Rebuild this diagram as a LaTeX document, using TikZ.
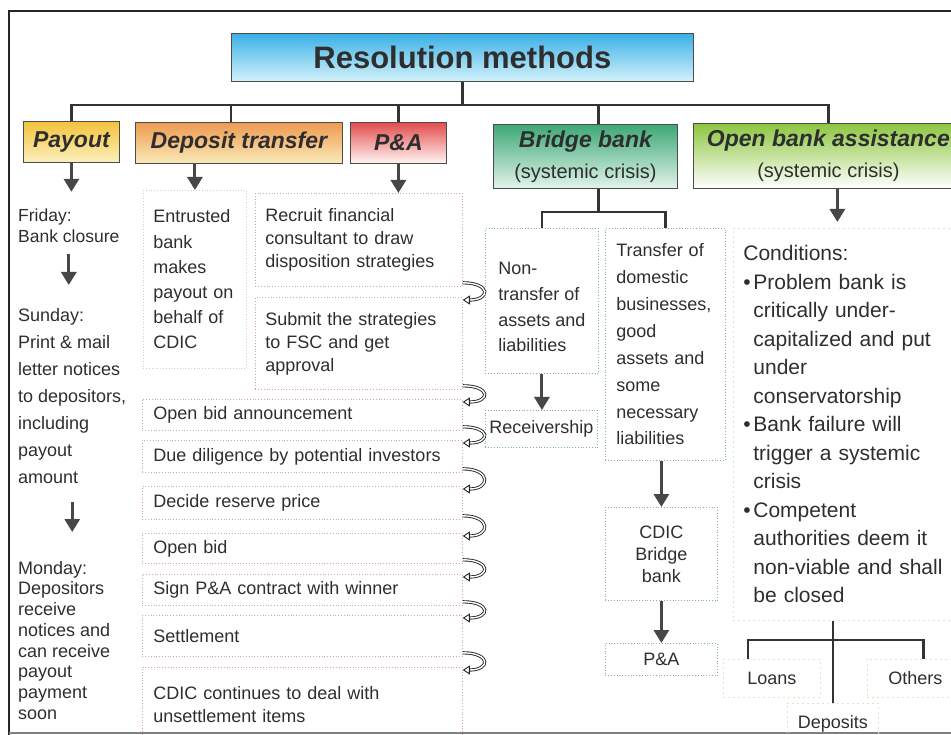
\documentclass[tikz,border=0pt]{standalone}
\usepackage{fontspec}
\setmainfont{Liberation Sans}
\usepackage{tikz}
\usetikzlibrary{arrows.meta}
\tikzset{>=stealth}
\usepackage{xcolor}
\definecolor{txt}{HTML}{2E2E2E}
\definecolor{arrowgray}{HTML}{474747}
\definecolor{titletop}{HTML}{3AB0E6}
\definecolor{titlebot}{HTML}{D4F2FB}
\definecolor{payouttop}{HTML}{F2C23A}
\definecolor{payoutbot}{HTML}{FCF0BE}
\definecolor{deptop}{HTML}{EE9A50}
\definecolor{depbot}{HTML}{FAEAB8}
\definecolor{patop}{HTML}{E24C4C}
\definecolor{pabot}{HTML}{FFF6F4}
\definecolor{bridgetop}{HTML}{3DA877}
\definecolor{bridgebot}{HTML}{E2F4EA}
\definecolor{opentop}{HTML}{8CC63F}
\definecolor{paline}{HTML}{D4A49C}
\definecolor{bbline}{HTML}{7DB3B3}
\definecolor{greyline}{HTML}{CFCFCF}
\definecolor{paleline}{HTML}{E2E2C4}

\newcommand{\condbullet}{\makebox[10pt][l]{\textbullet}}
\newcommand{\condindent}{\hspace*{10pt}}

\tikzset{
  head/.style={draw=black!70, line width=0.8pt, anchor=north west, inner sep=0pt, align=center,
    font=\bfseries\itshape\fontsize{23}{31}\selectfont},
  tree/.style={draw=black!80, line width=2.2pt},
  bigarrow/.style={draw=arrowgray, line width=3pt, -{Triangle[length=13pt, width=15pt]}},
  sweep/.style={draw=black!85, line width=0.9pt, double=white, double distance=1.4pt,
    -{Triangle[open, length=7pt, width=9pt]}},
  daytext/.style={anchor=north west, inner sep=0pt, align=left},
  greybox/.style={draw=greyline, dotted, line width=0.8pt, anchor=north west, inner xsep=10pt, inner ysep=0pt, align=left},
  pabox/.style={draw=paline, dotted, line width=0.8pt, anchor=north west, inner xsep=10pt, inner ysep=0pt, align=left},
  wide/.style={minimum width=320pt, text width=298pt, inner xsep=11pt},
  bbbox/.style={draw=bbline, dotted, line width=0.8pt, anchor=north west, inner xsep=2pt, inner ysep=0pt, align=center},
  palebox/.style={draw=paleline, dash pattern=on 2pt off 3pt, line width=0.8pt, anchor=north west, inner sep=0pt}
}

\begin{document}
\begin{tikzpicture}[x=1pt, y=-1pt, every node/.style={text=txt}, font=\fontsize{18}{23}\selectfont]
\useasboundingbox (0,0) rectangle (951,735);
\clip (0,0) rectangle (951,735);

% frame of the scan
\draw[line width=2pt, black!85] (9,740) -- (9,11) -- (960,11);
\draw[line width=1.2pt, black!50] (9,733) -- (960,733);

% title and methods
\node[head, font=\bfseries\fontsize{31}{36}\selectfont, top color=titletop, bottom color=titlebot,
  minimum width=462pt, minimum height=48pt] (title) at (231,33) {Resolution methods};
\node[head, top color=payouttop, bottom color=payoutbot, minimum width=96pt, minimum height=41pt] (payout) at (23,121) {Payout};
\node[head, top color=deptop, bottom color=depbot, minimum width=207pt, minimum height=41pt] (deptr) at (135,122) {Deposit transfer};
\node[head, top color=patop, bottom color=pabot, minimum width=96pt, minimum height=41pt] (pa) at (350,122) {P\&A};
\node[head, top color=bridgetop, bottom color=bridgebot, minimum width=184pt, minimum height=64pt] (bridge) at (493,124)
  {Bridge bank\\{\mdseries\upshape\fontsize{20}{31}\selectfont(systemic crisis)}};
\node[head, top color=opentop, bottom color=white, minimum width=270pt, minimum height=65pt] (openb) at (693,123)
  {Open bank assistance\\{\mdseries\upshape\fontsize{20}{31}\selectfont(systemic crisis)}};

\draw[tree] (title.south) -- ++(0,24);
\draw[tree] (payout.north) -- ++(0,-16) -| (openb.north);
\draw[tree] ([xshift=-8pt]deptr.north) -- ++(0,-17);
\draw[tree] (pa.north) -- ++(0,-17);
\draw[tree] ([xshift=13pt]bridge.north) -- ++(0,-19);

% payout
\node[daytext, font=\fontsize{17.5}{21}\selectfont] (fri) at (18,209) {Friday:\\Bank closure};
\node[daytext, font=\fontsize{18}{27}\selectfont] (sun) at (18,308)
  {Sunday:\\Print \& mail\\letter notices\\to depositors,\\including\\payout\\amount};
\node[daytext, font=\fontsize{18}{20.7}\selectfont] (mon) at (18,561)
  {Monday:\\Depositors\\receive\\notices and\\can receive\\payout\\payment\\soon};
\draw[bigarrow] (payout.south) -- ++(0,29);
\draw[bigarrow, shorten <=11pt, shorten >=23pt] (fri.south) -- (fri.south |- sun.north);
\draw[bigarrow, shorten <=18pt, shorten >=29pt] (sun.south) -- (sun.south |- mon.north);

% deposit transfer
\node[greybox, minimum width=103pt, minimum height=178pt, text width=83pt, font=\fontsize{18}{25.2}\selectfont] (entr) at (143,190)
  {Entrusted\\bank\\makes\\payout on\\behalf of\\CDIC};
\draw[bigarrow] (entr.north |- deptr.south) -- (entr.north);

% P&A steps
\node[pabox, minimum width=207pt, minimum height=93pt, text width=187pt] (recruit) at (255,193)
  {Recruit financial\\consultant to draw\\disposition strategies};
\node[pabox, minimum width=207pt, minimum height=92pt, text width=187pt] (submit) at (255,297)
  {Submit the strategies\\to FSC and get\\approval};
\node[pabox, wide, minimum height=31pt] (announce) at (142,399) {Open bid announcement};
\node[pabox, wide, minimum height=32pt] (diligence) at (142,440) {Due diligence by potential investors};
\node[pabox, wide, minimum height=33pt] (reserve) at (142,486) {Decide reserve price};
\node[pabox, wide, minimum height=30pt] (openbid) at (142,533) {Open bid};
\node[pabox, wide, minimum height=31pt] (contract) at (142,574) {Sign P\&A contract with winner};
\node[pabox, wide, minimum height=41pt] (settle) at (142,615) {Settlement};
\node[pabox, wide, minimum height=75pt] (unsettled) at (142,667) {CDIC continues to deal with\\unsettlement items};
\draw[bigarrow] (pa.south) -- (pa.south |- recruit.north);
\foreach \a/\b in {recruit/submit, submit/announce, announce/diligence, diligence/reserve,
                   reserve/openbid, openbid/contract, contract/settle, settle/unsettled}
  \draw[sweep] ([yshift=4pt]\a.south east) .. controls +(28,0) and +(28,0) .. ([yshift=-3pt]\b.north east);

% bridge bank
\node[bbbox, minimum width=113pt, minimum height=145pt, align=left, font=\fontsize{18}{25.7}\selectfont] (nontr) at (485,228)
  {\rule{0pt}{25pt}Non-\\transfer of\\assets and\\liabilities};
\node[bbbox, minimum width=120pt, minimum height=232pt, text width=98pt, inner xsep=11pt, align=left,
  font=\fontsize{18}{26.9}\selectfont] (trans) at (605,228)
  {Transfer of\\domestic\\businesses,\\good\\assets and\\some\\necessary\\liabilities};
\node[bbbox, minimum width=112pt, minimum height=37pt] (receiv) at (485,410) {Receivership};
\node[bbbox, minimum width=112pt, minimum height=93pt, font=\fontsize{18}{22}\selectfont] (cdicbb) at (605,507) {CDIC\\Bridge\\bank};
\node[bbbox, minimum width=112pt, minimum height=32pt] (bbpa) at (605,643) {P\&A};
\draw[tree] ([xshift=13pt]bridge.south) -- ++(0,24);
\draw[tree] (nontr.north) -- ++(0,-16) -| (trans.north);
\draw[bigarrow] (nontr.south) -- (nontr.south |- receiv.north);
\draw[bigarrow] (cdicbb.north |- trans.south) -- (cdicbb.north);
\draw[bigarrow] (cdicbb.south) -- (bbpa.north);

% open bank assistance
\node[palebox, minimum width=240pt, minimum height=392pt, text width=220pt, inner xsep=10pt, align=left,
  font=\fontsize{21}{28.5}\selectfont] (cond) at (733,228)
  {Conditions:\\
   \condbullet Problem bank is\\
   \condindent critically under-\\
   \condindent capitalized and put\\
   \condindent under\\
   \condindent conservatorship\\
   \condbullet Bank failure will\\
   \condindent trigger a systemic\\
   \condindent crisis\\
   \condbullet Competent\\
   \condindent authorities deem it\\
   \condindent non-viable and shall\\
   \condindent be closed};
\draw[bigarrow, shorten >=6pt] ([xshift=9pt]openb.south) -- ([xshift=9pt]openb.south |- cond.north);

\node[palebox, minimum width=97pt, minimum height=38pt] (loans) at (723,659) {Loans};
\node[palebox, minimum width=96pt, minimum height=38pt] (others) at (867,659) {Others};
\node[palebox, minimum width=91pt, minimum height=40pt] (deposits) at (787,703) {Deposits};
\draw[tree, line width=2.6pt] (deposits.north |- cond.south) -- (deposits.north);
\draw[tree, line width=2.6pt] ([xshift=-24pt]loans.north) -- ++(0,-19) -| ([xshift=8pt]others.north);
\end{tikzpicture}
\end{document}
